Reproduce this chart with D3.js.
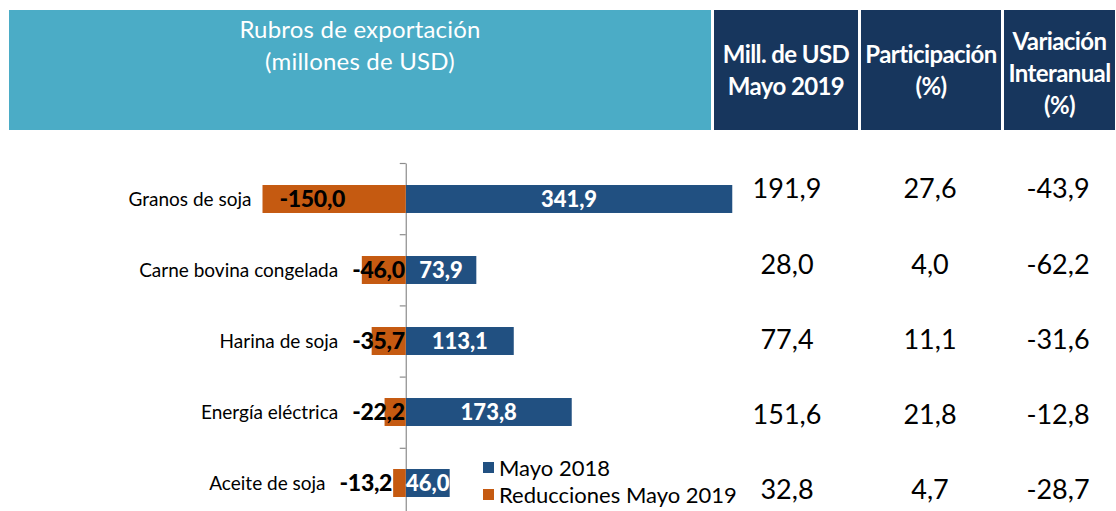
<!DOCTYPE html>
<html>
<head>
<meta charset="utf-8">
<script src="https://cdn.jsdelivr.net/npm/d3@7"></script>
<style>
  body { margin: 0; background: #fff; }
  svg { display: block; font-family: Lato, "Open Sans", sans-serif; }
</style>
</head>
<body>
<div id="chart"></div>
<script>
const width = 1116;
const height = 511;

// Data
const categories = ["Granos de soja", "Carne bovina congelada", "Harina de soja", "Energía eléctrica", "Aceite de soja"];
const mayo2018 = [341.9, 73.9, 113.1, 173.8, 46.0];
const reducciones = [-150.0, -46.0, -35.7, -22.2, -13.2];
const millUSD2019 = ["191,9", "28,0", "77,4", "151,6", "32,8"];
const participacion = ["27,6", "4,0", "11,1", "21,8", "4,7"];
const variacion = ["-43,9", "-62,2", "-31,6", "-12,8", "-28,7"];
const seriesNames = ["Mayo 2018", "Reducciones Mayo 2019"];

const blue = "#215081";
const orange = "#C55A11";
const teal = "#4BACC6";
const navy = "#17365D";

const fmt = v => d3.format(".1f")(v).replace(".", ",").replace("\u2212", "-");

const svg = d3.select("#chart").append("svg")
    .attr("width", width)
    .attr("height", height)
    .attr("viewBox", [0, 0, width, height]);

// Header boxes
const headers = [
  { x: 9, w: 702, fill: teal, lines: ["Rubros de exportación", "(millones de USD)"], y0: 30, weight: 400 },
  { x: 714, w: 144, fill: navy, lines: ["Mill. de USD", "Mayo 2019"], y0: 55, weight: 700 },
  { x: 861, w: 140, fill: navy, lines: ["Participación", "(%)"], y0: 55, weight: 700 },
  { x: 1004, w: 111, fill: navy, lines: ["Variación", "Interanual", "(%)"], y0: 42, weight: 700 }
];

const head = svg.append("g").selectAll("g")
  .data(headers)
  .join("g");

head.append("rect")
    .attr("x", d => d.x)
    .attr("y", 10)
    .attr("width", d => d.w)
    .attr("height", 120)
    .attr("fill", d => d.fill);

head.each(function(d) {
  d3.select(this).selectAll("text")
    .data(d.lines)
    .join("text")
      .attr("x", d.x + d.w / 2)
      .attr("y", (l, i) => d.y0 + i * 32)
      .attr("dy", "0.35em")
      .attr("text-anchor", "middle")
      .attr("fill", "#fff")
      .attr("font-size", 24)
      .attr("font-weight", d.weight)
      .attr("letter-spacing", d.weight === 700 ? -0.6 : 0.2)
      .text(l => l);
});

// Scales
const x = d3.scaleLinear()
    .domain([-150, 350])
    .range([262.5, 740]);

const y = d3.scaleBand()
    .domain(categories)
    .range([163, 519])
    .paddingInner(0.606)
    .paddingOuter(0.31);

// Vertical axis with ticks at category boundaries
const yEdge = d3.scaleLinear().domain([0, categories.length]).range([163, 519]);
const axis = svg.append("g")
    .attr("transform", `translate(${x(0)},0)`)
    .call(d3.axisLeft(yEdge)
      .tickValues(d3.range(categories.length))
      .tickFormat("")
      .tickSize(6)
      .tickSizeOuter(0));
axis.selectAll("path, line").attr("stroke", "#8c8c8c").attr("stroke-width", 1.2);

const rows = categories.map((c, i) => ({ c, pos: mayo2018[i], neg: reducciones[i] }));

// Bars
svg.append("g").selectAll("rect")
  .data(rows)
  .join("rect")
    .attr("x", x(0))
    .attr("y", d => y(d.c))
    .attr("width", d => x(d.pos) - x(0))
    .attr("height", y.bandwidth())
    .attr("fill", blue);

svg.append("g").selectAll("rect")
  .data(rows)
  .join("rect")
    .attr("x", d => x(d.neg))
    .attr("y", d => y(d.c))
    .attr("width", d => x(0) - x(d.neg))
    .attr("height", y.bandwidth())
    .attr("fill", orange);

// Positive labels, white, centered
svg.append("g").selectAll("text")
  .data(rows)
  .join("text")
    .attr("x", d => (x(0) + x(d.pos)) / 2)
    .attr("y", d => y(d.c) + y.bandwidth() / 2)
    .attr("dy", "0.36em")
    .attr("text-anchor", "middle")
    .attr("fill", "#fff")
    .attr("font-size", 22)
    .attr("font-weight", 900)
    .text(d => fmt(d.pos));

// Negative labels, black
const negLabels = svg.append("g").selectAll("text")
  .data(rows)
  .join("text")
    .attr("y", d => y(d.c) + y.bandwidth() / 2)
    .attr("dy", "0.36em")
    .attr("fill", "#000")
    .attr("font-size", 23)
    .attr("font-weight", 900)
    .attr("letter-spacing", -0.3)
    .each(function(d) {
      const w = x(0) - x(d.neg);
      const t = d3.select(this);
      if (w > 80) t.attr("text-anchor", "start").attr("x", x(d.neg) + 17);
      else if (w > 20) t.attr("text-anchor", "end").attr("x", x(0) - 1);
      else t.attr("text-anchor", "end").attr("x", x(d.neg) - 1);
    })
    .text(d => fmt(d.neg));

// Category labels, placed left of the negative label / bar
const labelLeft = [];
negLabels.each(function() { labelLeft.push(this.getBBox().x); });

svg.append("g").selectAll("text")
  .data(rows)
  .join("text")
    .attr("x", (d, i) => Math.min(x(d.neg) - 11, labelLeft[i] - 14))
    .attr("y", d => y(d.c) + y.bandwidth() / 2)
    .attr("dy", "0.35em")
    .attr("text-anchor", "end")
    .attr("fill", "#000")
    .attr("font-size", 19)
    .text(d => d.c);

// Table columns on the right
const rowY = d3.scalePoint().domain(categories).range([189, 490]);
const columns = [
  { cx: 787, vals: millUSD2019 },
  { cx: 930, vals: participacion },
  { cx: 1058, vals: variacion }
];
columns.forEach(col => {
  svg.append("g").selectAll("text")
    .data(col.vals)
    .join("text")
      .attr("x", col.cx)
      .attr("y", (v, i) => rowY(categories[i]))
      .attr("dy", "0.35em")
      .attr("text-anchor", "middle")
      .attr("fill", "#000")
      .attr("font-size", 27)
      .text(v => v);
});

// Legend
const legend = svg.append("g").attr("transform", "translate(483,462)");
const legendItems = legend.selectAll("g")
  .data(seriesNames)
  .join("g")
    .attr("transform", (d, i) => `translate(0,${i * 27})`);
legendItems.append("rect")
    .attr("width", 11)
    .attr("height", 11)
    .attr("fill", (d, i) => i === 0 ? blue : orange);
legendItems.append("text")
    .attr("x", 16)
    .attr("y", 6)
    .attr("dy", "0.35em")
    .attr("font-size", 22)
    .attr("fill", "#000")
    .text(d => d);
</script>
</body>
</html>
